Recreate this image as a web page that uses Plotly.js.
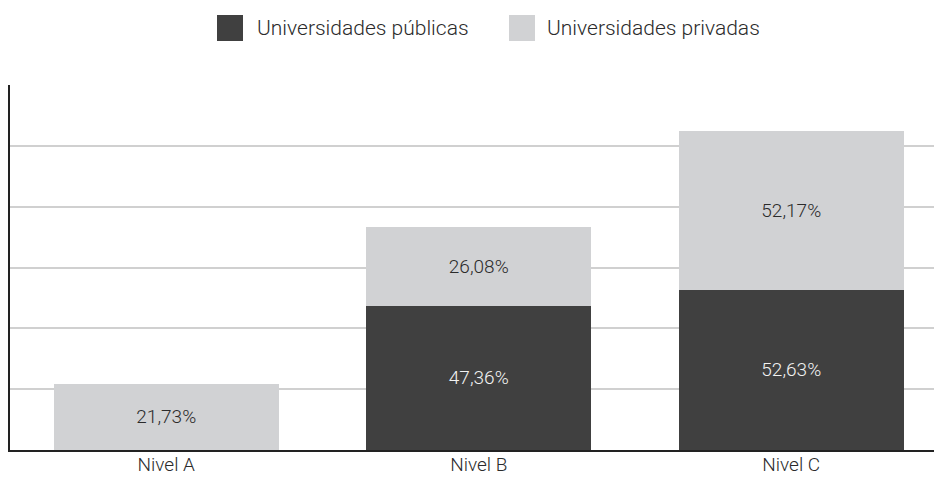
<!DOCTYPE html>
<html>
<head>
<meta charset="utf-8">
<script src="https://cdn.plot.ly/plotly-3.0.1.min.js"></script>
<style>html,body{margin:0;padding:0;background:#fff;}#chart{width:934px;height:477px;}</style>
</head>
<body>
<div id="chart"></div>
<script>
const categories = ["Nivel A", "Nivel B", "Nivel C"];
const seriesNames = ["Universidades públicas", "Universidades privadas"];
const publicas = [null, 47.36, 52.63];
const privadas = [21.73, 26.08, 52.17];

const colors = ["#404040", "#d1d2d4"];
const textColors = ["#f2f2f2", "#2b2b2b"];
const FONT = "Roboto, 'Noto Sans', sans-serif";
const WEIGHT = 300;

const W = 934, H = 477, ML = 10, MR = 0, MT = 85, MB = 27;
const PW = W - ML - MR, PH = H - MT - MB;
const px = x => (x - ML) / PW;
const py = y => (H - MB - y) / PH;

const fmt = v => v == null ? "" : v.toFixed(2).replace(".", ",") + "%";

const traces = [publicas, privadas].map((vals, i) => ({
  type: "bar",
  name: seriesNames[i],
  x: categories,
  y: vals,
  text: vals.map(fmt),
  textposition: "inside",
  insidetextanchor: "middle",
  constraintext: "none",
  textfont: {family: FONT, size: 19, weight: WEIGHT, color: textColors[i]},
  marker: {color: colors[i], line: {width: 0}},
  hoverinfo: "skip",
  showlegend: false
}));

// legend drawn as squares + labels
const legendSquares = [217, 509];
const legendTexts = [255, 545];
const shapes = legendSquares.map((x0, i) => ({
  type: "rect", xref: "paper", yref: "paper",
  x0: px(x0), x1: px(x0 + 26), y0: py(41), y1: py(15),
  fillcolor: colors[i], line: {width: 0}
}));
const annotations = legendTexts.map((x0, i) => ({
  xref: "paper", yref: "paper", x: px(x0), y: py(28),
  xanchor: "left", yanchor: "middle", showarrow: false,
  text: seriesNames[i],
  font: {family: FONT, size: 21, weight: WEIGHT, color: "#2b2b2b"}
}));

const layout = {
  width: W, height: H,
  margin: {l: ML, r: MR, t: MT, b: MB, pad: 0},
  paper_bgcolor: "#ffffff", plot_bgcolor: "#ffffff",
  barmode: "stack",
  bargap: 0.28,
  separators: ",.",
  font: {family: FONT, size: 19, weight: WEIGHT, color: "#2b2b2b"},
  xaxis: {
    type: "category",
    range: [-0.5, -0.5 + PW / 312.5],
    showline: true, linecolor: "#222222", linewidth: 2,
    ticks: "", showgrid: false, zeroline: false,
    ticklabelstandoff: -4,
    tickfont: {family: FONT, size: 19, weight: WEIGHT, color: "#2b2b2b"},
    fixedrange: true
  },
  yaxis: {
    range: [0, 120], dtick: 20,
    showticklabels: false, ticks: "",
    showgrid: true, gridcolor: "#d0d0d0", gridwidth: 2,
    showline: true, linecolor: "#222222", linewidth: 2,
    zeroline: false, fixedrange: true
  },
  shapes: shapes,
  annotations: annotations,
  showlegend: false
};

Plotly.newPlot("chart", traces, layout, {displayModeBar: false, staticPlot: true});
</script>
</body>
</html>
